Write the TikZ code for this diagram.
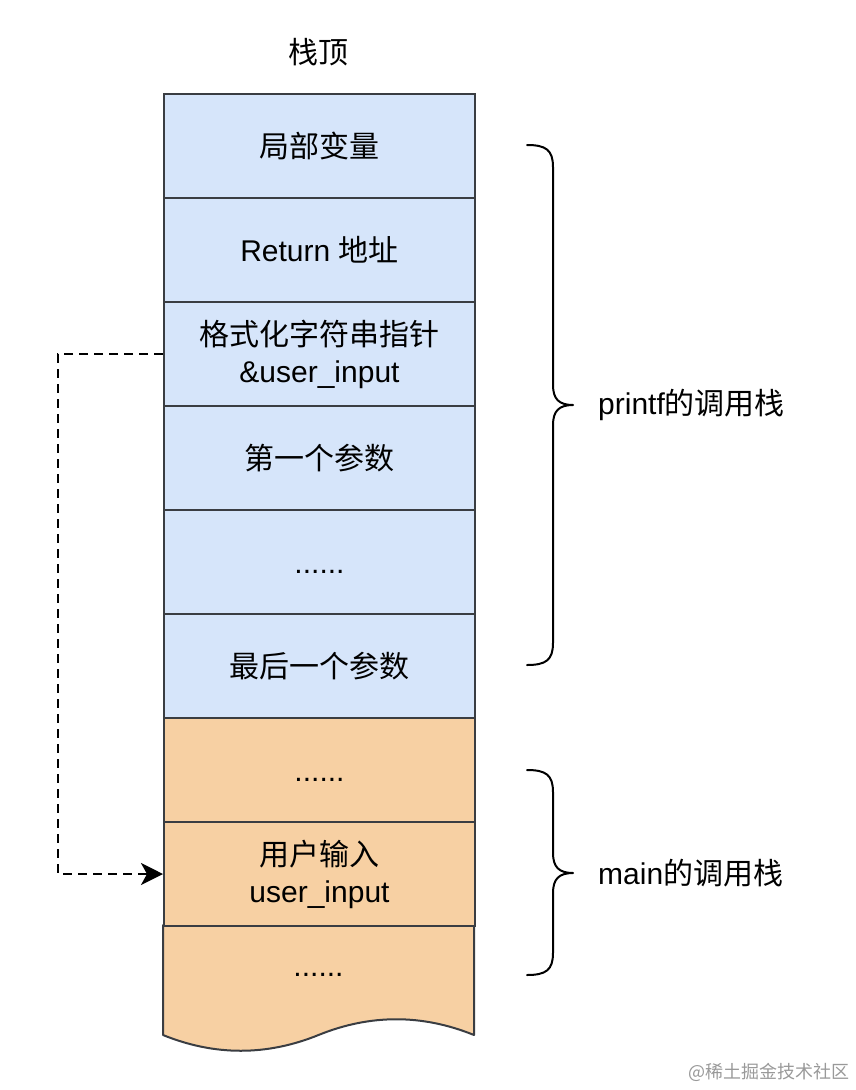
\documentclass[tikz,border=0pt]{standalone}
\usepackage{fontspec}
\setmainfont{Liberation Sans}
\newfontfamily\cjk{Noto Sans CJK SC}
\usetikzlibrary{arrows.meta}
\definecolor{bluefill}{HTML}{D6E5FA}
\definecolor{orangefill}{HTML}{F7D0A3}
\definecolor{edgegray}{HTML}{3A3D42}
\newcommand{\lowdots}{\raisebox{-11pt}[0pt][0pt]{......}}
\begin{document}
\begin{tikzpicture}[x=1pt,y=-1pt,
  cell/.style={draw=edgegray, line width=2pt, minimum width=311pt, minimum height=104pt,
    inner sep=0pt, anchor=north west, align=center, font=\fontsize{30}{37}\selectfont},
  bluecell/.style={cell, fill=bluefill},
  orangecell/.style={cell, fill=orangefill},
  lbl/.style={font=\fontsize{30}{37}\selectfont, inner sep=0pt},
  brace/.style={draw=black, line width=2pt, line cap=round, line join=round},
  dashlink/.style={draw=black, line width=2.2pt, dash pattern=on 9pt off 6pt,
    -{Stealth[length=22pt,width=22pt,inset=6pt]}}
]
\useasboundingbox (0,0) rectangle (856,1090);

\node[lbl] (top) at (318.5,52) {\cjk 栈顶};

% bottom wavy cell
\draw[draw=edgegray, line width=2pt, fill=orangefill, line join=round]
  (163,925) -- (474,925) -- (474,1035)
  .. controls (422.2,1014) and (370.3,1014) .. (318.5,1035)
  .. controls (266.7,1056) and (214.8,1056) .. (163,1035) -- cycle;
\node[lbl] (r9) at (318.5,965) {\lowdots};

\node[bluecell] (r1) at (163,93) {\cjk 局部变量};
\node[bluecell] (r2) at (163,197) {Return {\cjk 地址}};
\node[bluecell] (r3) at (163,301) {{\cjk 格式化字符串指针}\\\&user\_input};
\node[bluecell] (r4) at (163,405) {\cjk 第一个参数};
\node[bluecell] (r5) at (163,509) {\lowdots};
\node[bluecell] (r6) at (163,613) {\cjk 最后一个参数};
\node[orangecell] (r7) at (163,717) {\lowdots};
\node[orangecell] (r8) at (163,821) {{\cjk 用户输入}\\user\_input};

% dashed pointer
\coordinate (bend) at (58,353);
\draw[dashlink] (r3.west) -- (r3.west -| bend) |- (r8.west);

% braces
\draw[brace] (527,145) .. controls (546,145) and (553,150) .. (553,167) -- (553,385)
  .. controls (553,399) and (559,405) .. (573,405)
  .. controls (559,405) and (553,411) .. (553,425) -- (553,643)
  .. controls (553,660) and (546,665) .. (527,665);
\node[lbl, anchor=west] (plabel) at (598,405) {printf{\cjk 的调用栈}};

\draw[brace] (527,770) .. controls (546,770) and (553,775) .. (553,792) -- (553,853)
  .. controls (553,867) and (559,873) .. (573,873)
  .. controls (559,873) and (553,879) .. (553,893) -- (553,953)
  .. controls (553,970) and (546,975) .. (527,975);
\node[lbl, anchor=west] (mlabel) at (598,873) {main{\cjk 的调用栈}};

\node[font=\cjk\fontsize{18}{20}\selectfont, text=black!40, anchor=east, inner sep=0pt] (wm) at (850,1072) {@稀土掘金技术社区};
\end{tikzpicture}
\end{document}
